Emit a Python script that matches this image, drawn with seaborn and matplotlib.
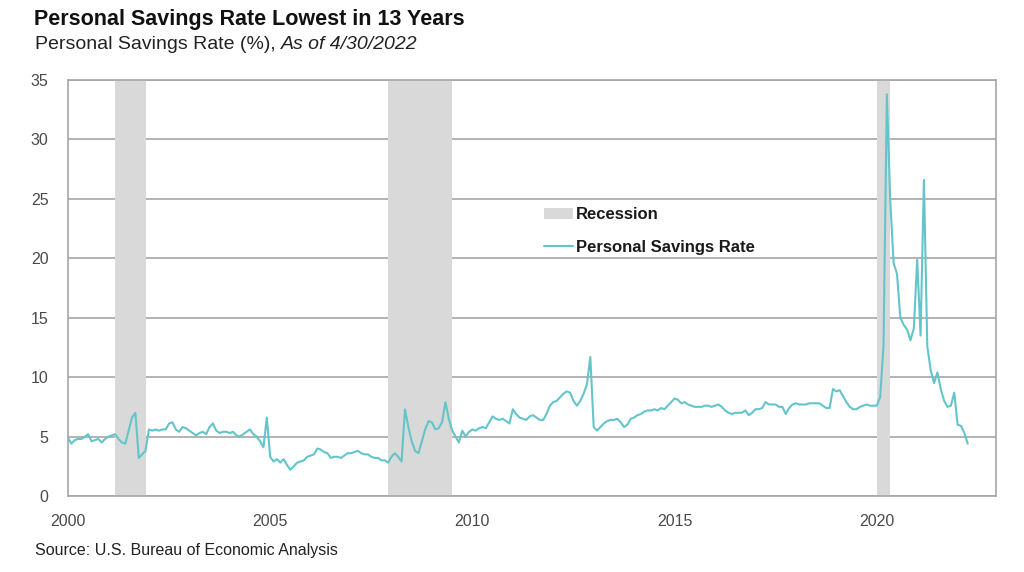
import matplotlib
matplotlib.use("Agg")
import matplotlib.pyplot as plt
import seaborn as sns
import numpy as np
import pandas as pd
from matplotlib.patches import Patch
from matplotlib.lines import Line2D

# monthly personal savings rate (%), Jan 2000 - Apr 2022
rate_by_year = {
    2000: [4.9, 4.4, 4.7, 4.8, 4.8, 5.0, 5.2, 4.6, 4.7, 4.8, 4.5, 4.8],
    2001: [5.0, 5.1, 5.2, 4.8, 4.5, 4.4, 5.5, 6.6, 7.0, 3.2, 3.5, 3.8],
    2002: [5.6, 5.5, 5.6, 5.5, 5.6, 5.6, 6.1, 6.2, 5.6, 5.4, 5.8, 5.7],
    2003: [5.5, 5.3, 5.1, 5.3, 5.4, 5.2, 5.8, 6.1, 5.5, 5.3, 5.4, 5.4],
    2004: [5.3, 5.4, 5.1, 5.0, 5.2, 5.4, 5.6, 5.2, 5.0, 4.6, 4.1, 6.6],
    2005: [3.3, 2.9, 3.1, 2.8, 3.1, 2.6, 2.2, 2.5, 2.8, 2.9, 3.0, 3.3],
    2006: [3.4, 3.5, 4.0, 3.9, 3.7, 3.6, 3.2, 3.3, 3.3, 3.2, 3.4, 3.6],
    2007: [3.6, 3.7, 3.8, 3.6, 3.5, 3.5, 3.3, 3.2, 3.2, 3.0, 3.0, 2.8],
    2008: [3.3, 3.6, 3.3, 2.9, 7.3, 5.8, 4.6, 3.8, 3.6, 4.6, 5.6, 6.3],
    2009: [6.2, 5.6, 5.7, 6.2, 7.9, 6.5, 5.5, 5.0, 4.5, 5.5, 5.0, 5.4],
    2010: [5.6, 5.5, 5.7, 5.8, 5.7, 6.2, 6.7, 6.5, 6.4, 6.5, 6.3, 6.1],
    2011: [7.3, 6.9, 6.6, 6.5, 6.4, 6.7, 6.8, 6.6, 6.4, 6.4, 6.9, 7.6],
    2012: [7.9, 8.0, 8.3, 8.6, 8.8, 8.7, 8.0, 7.6, 8.0, 8.6, 9.4, 11.7],
    2013: [5.8, 5.5, 5.8, 6.1, 6.3, 6.4, 6.4, 6.5, 6.2, 5.8, 6.0, 6.5],
    2014: [6.6, 6.8, 6.9, 7.1, 7.2, 7.2, 7.3, 7.2, 7.4, 7.3, 7.6, 7.9],
    2015: [8.2, 8.1, 7.8, 7.9, 7.7, 7.6, 7.5, 7.5, 7.5, 7.6, 7.6, 7.5],
    2016: [7.6, 7.7, 7.5, 7.2, 7.0, 6.9, 7.0, 7.0, 7.0, 7.2, 6.8, 7.0],
    2017: [7.3, 7.3, 7.4, 7.9, 7.7, 7.7, 7.7, 7.5, 7.5, 6.9, 7.4, 7.7],
    2018: [7.8, 7.7, 7.7, 7.7, 7.8, 7.8, 7.8, 7.8, 7.6, 7.4, 7.4, 9.0],
    2019: [8.8, 8.9, 8.4, 7.9, 7.5, 7.3, 7.3, 7.5, 7.6, 7.7, 7.6, 7.6],
    2020: [7.6, 8.3, 12.6, 33.8, 24.9, 19.6, 18.7, 15.0, 14.4, 14.0, 13.1, 14.1],
    2021: [19.9, 13.5, 26.6, 12.6, 10.6, 9.5, 10.4, 9.0, 8.0, 7.5, 7.6, 8.7],
    2022: [6.0, 5.9, 5.3, 4.4],
}

recession_start = [2001.17, 2007.92, 2020.0]
recession_end = [2001.92, 2009.5, 2020.33]

year_ticks = [2000, 2005, 2010, 2015, 2020]
y_ticks = [0, 5, 10, 15, 20, 25, 30, 35]

rows = []
for yr, vals in rate_by_year.items():
    for m, v in enumerate(vals):
        rows.append({"t": yr + m / 12, "rate": v})
df = pd.DataFrame(rows)

line_color = "#63C5CA"
rec_color = "#D9D9D9"
grid_color = "#A6A6A6"

sns.set_style("white")
plt.rcParams["font.family"] = ["Liberation Sans", "DejaVu Sans"]

fig = plt.figure(figsize=(10.24, 5.72), dpi=100)
ax = fig.add_axes([0.0664, 0.1329, 0.9063, 0.7271])

for s, e in zip(recession_start, recession_end):
    ax.axvspan(s, e, color=rec_color, lw=0, zorder=1)

sns.lineplot(data=df, x="t", y="rate", ax=ax, color=line_color, lw=1.5, zorder=3)

ax.set_xlim(2000, 2022.95)
ax.set_ylim(0, 35)
ax.set_xticks(year_ticks)
ax.set_xticklabels([str(y) for y in year_ticks])
ax.set_yticks(y_ticks)
ax.yaxis.grid(True, color=grid_color, lw=1.2, zorder=0)
ax.set_axisbelow(True)
ax.set_xlabel("")
ax.set_ylabel("")
for sp in ax.spines.values():
    sp.set_color(grid_color)
    sp.set_linewidth(1.2)
ax.tick_params(axis="x", direction="in", length=5, color="#606060", labelsize=11.5,
               labelcolor="#4a4a4a", pad=13)
ax.tick_params(axis="y", length=0, labelsize=11.5, labelcolor="#4a4a4a", pad=14)

handles = [Patch(facecolor=rec_color, edgecolor="none"),
           Line2D([], [], color=line_color, lw=1.5)]
leg = ax.legend(handles, ["Recession", "Personal Savings Rate"], loc="upper left",
                bbox_to_anchor=(0.497, 0.73), frameon=False, handlelength=1.7,
                handletextpad=0.2, labelspacing=1.05,
                prop={"weight": "bold", "size": 12})
for t in leg.get_texts():
    t.set_color("#1a1a1a")

fig.text(0.033, 0.985, "Personal Savings Rate Lowest in 13 Years", fontsize=15.5,
         fontweight="bold", va="top", ha="left", color="#111111")
sub = fig.text(0.034, 0.937, "Personal Savings Rate (%), ", fontsize=14, va="top",
               ha="left", color="#222222")
fig.canvas.draw()
bb = sub.get_window_extent(renderer=fig.canvas.get_renderer())
fig.text(bb.x1 / fig.bbox.width, 0.937, "As of 4/30/2022", fontsize=14, va="top",
         ha="left", style="italic", color="#222222")
fig.text(0.034, 0.038, "Source: U.S. Bureau of Economic Analysis", fontsize=11.5,
         va="center", ha="left", color="#222222")

fig.savefig("out.png", dpi=100)
